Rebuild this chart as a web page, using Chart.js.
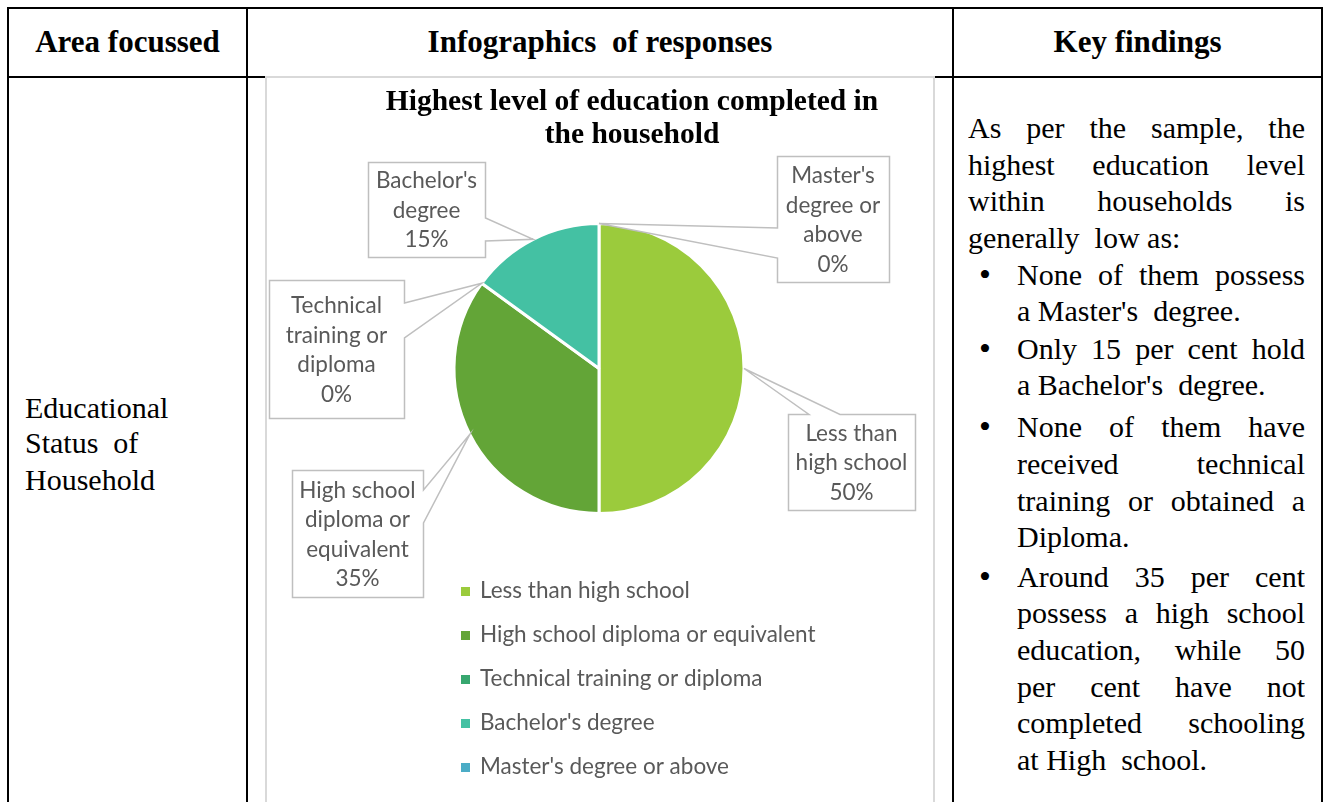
<!DOCTYPE html>
<html><head><meta charset="utf-8">
<script src="https://cdn.jsdelivr.net/npm/chart.js@4.4.1/dist/chart.umd.min.js"></script>
<style>
html,body{margin:0;padding:0;background:#fff;}
body{width:1330px;height:802px;position:relative;overflow:hidden;font-family:"Liberation Serif","Times New Roman",serif;color:#000;}
.ln{position:absolute;background:#000;}
.t{position:absolute;white-space:nowrap;font-size:30px;line-height:36px;height:36px;}
.hd{font-weight:bold;text-align:center;font-size:31px;}
.j{text-align:justify;text-align-last:justify;white-space:normal;overflow:hidden;}
.b{position:absolute;font-size:34px;line-height:36px;height:36px;}
#box{position:absolute;left:265px;top:76px;width:666px;height:760px;border:2px solid #D9D9D9;background:#fff;}
#c{position:absolute;left:0;top:0;}
</style></head>
<body>
<div class="ln" style="left:7px;top:7px;width:1316px;height:2px"></div>
<div class="ln" style="left:7px;top:76px;width:1316px;height:2px"></div>
<div class="ln" style="left:7px;top:7px;width:2px;height:800px"></div>
<div class="ln" style="left:246px;top:7px;width:2px;height:800px"></div>
<div class="ln" style="left:952px;top:7px;width:2px;height:800px"></div>
<div class="ln" style="left:1321px;top:7px;width:2px;height:800px"></div>

<div class="t hd" style="left:9px;width:237px;top:24px">Area focussed</div>
<div class="t hd" style="left:248px;width:704px;top:24px">Infographics&nbsp; of responses</div>
<div class="t hd" style="left:954px;width:367px;top:24px">Key findings</div>

<div class="t" style="left:25px;top:390px">Educational</div>
<div class="t" style="left:25px;top:425px">Status&nbsp; of</div>
<div class="t" style="left:25px;top:462px">Household</div>

<div class="t j" style="left:968px;width:337px;top:110px">As per the sample, the</div>
<div class="t j" style="left:968px;width:337px;top:147px">highest education level</div>
<div class="t j" style="left:968px;width:337px;top:183px">within households is</div>
<div class="t" style="left:968px;top:220px">generally&nbsp; low as:</div>

<div class="b" style="left:979px;top:257px">•</div>
<div class="t j" style="left:1017px;width:288px;top:257px">None of them possess</div>
<div class="t" style="left:1017px;top:293px">a Master's&nbsp; degree.</div>
<div class="b" style="left:979px;top:331px">•</div>
<div class="t j" style="left:1017px;width:288px;top:331px">Only 15 per cent hold</div>
<div class="t" style="left:1017px;top:367px">a Bachelor's&nbsp; degree.</div>
<div class="b" style="left:979px;top:409px">•</div>
<div class="t j" style="left:1017px;width:288px;top:409px">None of them have</div>
<div class="t j" style="left:1017px;width:288px;top:446px">received technical</div>
<div class="t j" style="left:1017px;width:288px;top:483px">training or obtained a</div>
<div class="t" style="left:1017px;top:519px">Diploma.</div>
<div class="b" style="left:979px;top:559px">•</div>
<div class="t j" style="left:1017px;width:288px;top:559px">Around 35 per cent</div>
<div class="t j" style="left:1017px;width:288px;top:595px">possess a high school</div>
<div class="t j" style="left:1017px;width:288px;top:632px">education, while 50</div>
<div class="t j" style="left:1017px;width:288px;top:669px">per cent have not</div>
<div class="t j" style="left:1017px;width:288px;top:705px">completed schooling</div>
<div class="t" style="left:1017px;top:742px">at High&nbsp; school.</div>

<div id="box"><canvas id="c" width="666" height="724"></canvas></div>

<script>
// ---- data ----
const categories = ["Less than high school", "High school diploma or equivalent", "Technical training or diploma", "Bachelor's degree", "Master's degree or above"];
const shares = [50, 35, 0, 15, 0];
const calloutNames = [["Less than", "high school"], ["High school", "diploma or", "equivalent"], ["Technical", "training or", "diploma"], ["Bachelor's", "degree"], ["Master's", "degree or", "above"]];
const titleLines = ["Highest level of education completed in", "the household"];
const sliceColors = ["#9BCB3C", "#63A537", "#37A76F", "#44C1A3", "#4BACC6"];

// ---- callout styling / placement (canvas px) ----
const calloutBoxes = [
  {x: 521, y: 336, w: 127, h: 96, side: 'top', a: 542, b: 573},
  {x: 25, y: 392, w: 131, h: 127, side: 'right', a: 412, b: 445},
  {x: 2, y: 202, w: 135, h: 138, side: 'right', a: 225, b: 260},
  {x: 101, y: 84, w: 117, h: 95, side: 'right', a: 140, b: 163},
  {x: 510, y: 78, w: 112, h: 126, side: 'left', a: 150, b: 180}
];
const LABEL_FONT = '22.5px Lato, "Noto Sans", sans-serif';
const TEXT_GRAY = '#595959';

const decor = {
  id: 'decor',
  afterDatasetsDraw(chart) {
    const ctx = chart.ctx;
    const meta = chart.getDatasetMeta(0);
    // title
    ctx.save();
    ctx.fillStyle = '#000';
    ctx.font = 'bold 29.5px "Liberation Serif", serif';
    ctx.textAlign = 'center';
    ctx.textBaseline = 'middle';
    titleLines.forEach((t, i) => ctx.fillText(t, 365, 24 + i * 33));
    ctx.restore();

    // callouts
    meta.data.forEach((arc, i) => {
      const p = arc.getProps(['x', 'y', 'startAngle', 'endAngle', 'outerRadius'], true);
      const mid = (p.startAngle + p.endAngle) / 2;
      const tx = p.x + Math.cos(mid) * p.outerRadius;
      const ty = p.y + Math.sin(mid) * p.outerRadius;
      const c = calloutBoxes[i];
      const L = c.x + 0.5, T = c.y + 0.5, R = c.x + c.w + 0.5, B = c.y + c.h + 0.5;
      ctx.save();
      ctx.beginPath();
      ctx.moveTo(L, T);
      if (c.side === 'top') { ctx.lineTo(c.a, T); ctx.lineTo(tx, ty); ctx.lineTo(c.b, T); }
      ctx.lineTo(R, T);
      if (c.side === 'right') { ctx.lineTo(R, c.a); ctx.lineTo(tx, ty); ctx.lineTo(R, c.b); }
      ctx.lineTo(R, B);
      ctx.lineTo(L, B);
      if (c.side === 'left') { ctx.lineTo(L, c.b); ctx.lineTo(tx, ty); ctx.lineTo(L, c.a); }
      ctx.closePath();
      ctx.fillStyle = '#fff';
      ctx.fill();
      ctx.strokeStyle = '#BFBFBF';
      ctx.lineWidth = 1.5;
      ctx.stroke();
      const lines = calloutNames[i].concat([shares[i] + '%']);
      ctx.fillStyle = TEXT_GRAY;
      ctx.font = LABEL_FONT;
      ctx.textAlign = 'center';
      ctx.textBaseline = 'middle';
      const lh = 29.5;
      const y0 = c.y + c.h / 2 - (lines.length - 1) * lh / 2 + 1;
      lines.forEach((s, k) => ctx.fillText(s, c.x + c.w / 2, y0 + k * lh));
      ctx.restore();
    });

    // legend
    ctx.save();
    ctx.font = LABEL_FONT;
    ctx.textBaseline = 'middle';
    ctx.textAlign = 'left';
    chart.data.labels.forEach((lab, i) => {
      const y = 513 + i * 44;
      ctx.fillStyle = chart.data.datasets[0].backgroundColor[i];
      ctx.fillRect(194, y - 4, 9, 9);
      ctx.fillStyle = TEXT_GRAY;
      ctx.fillText(lab, 213, y);
    });
    ctx.restore();
  }
};

new Chart(document.getElementById('c'), {
  type: 'pie',
  data: {
    labels: categories,
    datasets: [{
      data: shares,
      backgroundColor: sliceColors,
      borderColor: '#ffffff',
      borderWidth: 3
    }]
  },
  options: {
    responsive: false,
    animation: false,
    devicePixelRatio: 1,
    layout: {padding: {top: 144, bottom: 287, left: 0, right: 2}},
    plugins: {legend: {display: false}, tooltip: {enabled: false}, title: {display: false}}
  },
  plugins: [decor]
});
</script>
</body></html>
